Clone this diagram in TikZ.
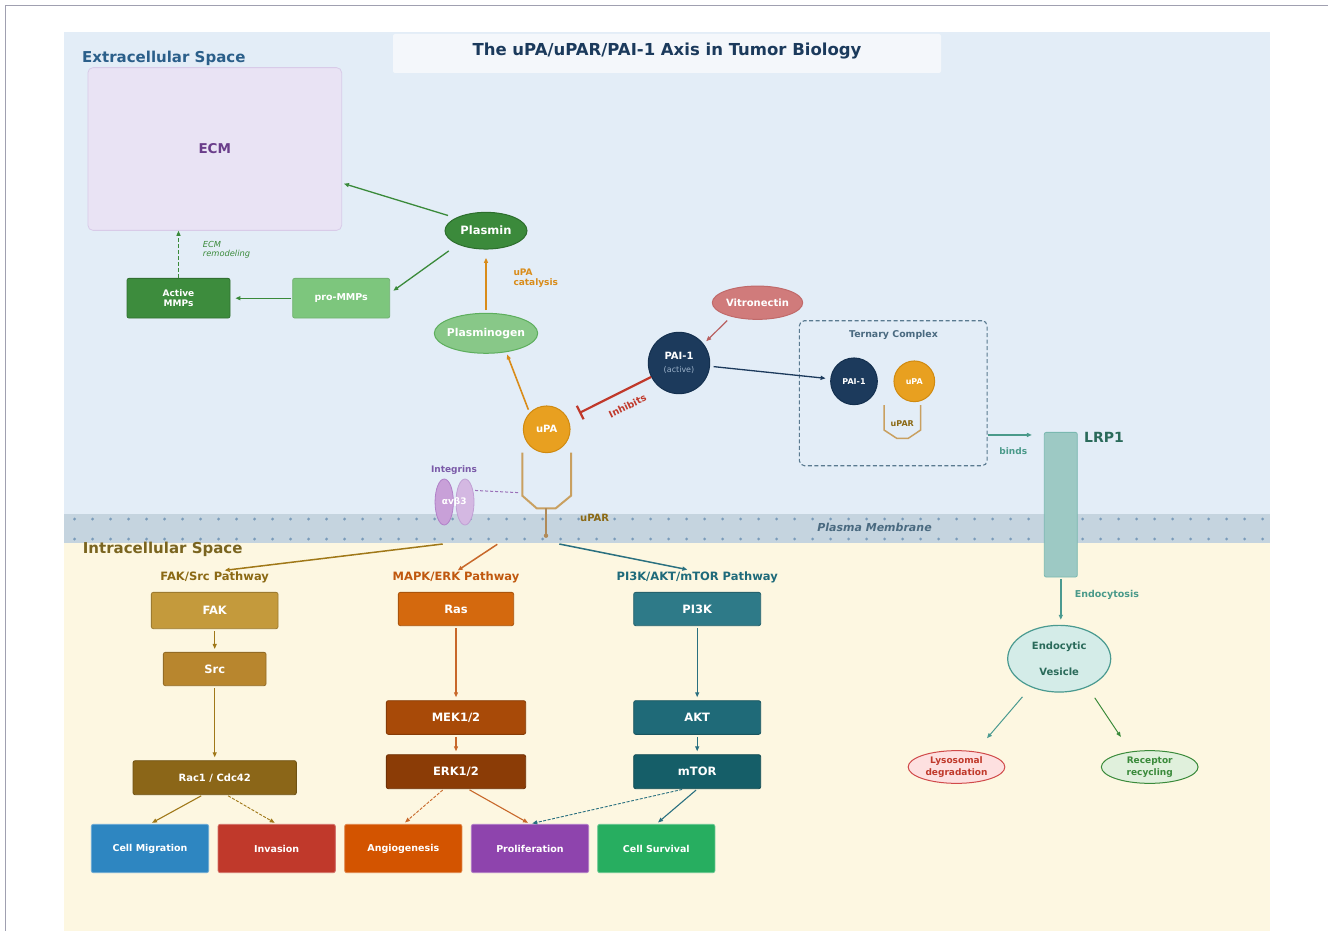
\documentclass[tikz,border=0pt]{standalone}
\usepackage{fontspec}
\setmainfont{DejaVu Sans}
\usetikzlibrary{arrows.meta,shapes.geometric}

\definecolor{framegrey}{HTML}{A0A0B0}
\definecolor{bgblue}{HTML}{E3EDF7}
\definecolor{bgyellow}{HTML}{FDF7E1}
\definecolor{membr}{HTML}{C5D4DF}
\definecolor{memdot}{HTML}{7A9BBA}
\definecolor{titlefill}{HTML}{F4F7FB}
\definecolor{titletext}{HTML}{1B3A5C}
\definecolor{extratext}{HTML}{2B5F8A}
\definecolor{ecmfill}{HTML}{E9E3F4}
\definecolor{ecmdraw}{HTML}{D8CBE8}
\definecolor{ecmtext}{HTML}{6A3D8A}
\definecolor{plasminc}{HTML}{3B8A3B}
\definecolor{plasmindraw}{HTML}{2D6E2D}
\definecolor{plgnc}{HTML}{88C888}
\definecolor{plgndraw}{HTML}{5DAE5D}
\definecolor{prommc}{HTML}{7DC67D}
\definecolor{actmmc}{HTML}{3D8C3D}
\definecolor{mmgreen}{HTML}{3A8A3A}
\definecolor{upac}{HTML}{E8A020}
\definecolor{upadraw}{HTML}{D08A10}
\definecolor{catal}{HTML}{D98C1A}
\definecolor{uparcol}{HTML}{C9A060}
\definecolor{uparstem}{HTML}{B08A58}
\definecolor{upartext}{HTML}{8B6914}
\definecolor{paic}{HTML}{1C3A5C}
\definecolor{paidraw}{HTML}{14304F}
\definecolor{activegrey}{HTML}{9AB0C8}
\definecolor{inhred}{HTML}{C0392B}
\definecolor{vitroc}{HTML}{D07B7B}
\definecolor{vitrodraw}{HTML}{C06A6A}
\definecolor{vitroarr}{HTML}{B86060}
\definecolor{ternline}{HTML}{5A7A90}
\definecolor{terntext}{HTML}{4A6A80}
\definecolor{tealc}{HTML}{4A9A8A}
\definecolor{lrpfill}{HTML}{9DC9C4}
\definecolor{lrpdraw}{HTML}{7AB8B0}
\definecolor{lrptext}{HTML}{2A6A5A}
\definecolor{int1c}{HTML}{C8A0D8}
\definecolor{int1draw}{HTML}{B080C8}
\definecolor{int2c}{HTML}{D4B8E2}
\definecolor{int2draw}{HTML}{C0A0D4}
\definecolor{intdash}{HTML}{9A70B8}
\definecolor{integtext}{HTML}{7A5AA8}
\definecolor{intratext}{HTML}{7A6520}
\definecolor{fakarr}{HTML}{A07818}
\definecolor{fakhdr}{HTML}{8B6914}
\definecolor{fakbox}{HTML}{C49A3C}
\definecolor{srcbox}{HTML}{B8862E}
\definecolor{racbox}{HTML}{8B6618}
\definecolor{mapkhdr}{HTML}{C0580E}
\definecolor{rasbox}{HTML}{D4690E}
\definecolor{mekbox}{HTML}{A84A08}
\definecolor{erkbox}{HTML}{8B3C06}
\definecolor{mapkarr}{HTML}{C8682A}
\definecolor{pi3khdr}{HTML}{1E6A7A}
\definecolor{pi3kbox}{HTML}{2E7A88}
\definecolor{aktbox}{HTML}{1F6A78}
\definecolor{mtorbox}{HTML}{155E68}
\definecolor{pi3karr}{HTML}{2A7080}
\definecolor{migblue}{HTML}{2E86C1}
\definecolor{invred}{HTML}{C0392B}
\definecolor{angorange}{HTML}{D35400}
\definecolor{prolpurple}{HTML}{8E44AD}
\definecolor{survgreen}{HTML}{27AE60}
\definecolor{vesfill}{HTML}{D4ECE8}
\definecolor{vesdraw}{HTML}{4A9A90}
\definecolor{vestext}{HTML}{2A6A5A}
\definecolor{lysofill}{HTML}{FDE0E0}
\definecolor{lysodraw}{HTML}{D04A4A}
\definecolor{lysotext}{HTML}{C0392B}
\definecolor{recfill}{HTML}{E0F0DC}
\definecolor{recdraw}{HTML}{3A8A3A}

\newcommand{\fsz}[1]{\fontsize{#1}{#1}\selectfont}

\tikzset{
  arr/.style={-{Triangle[length=5pt,width=4pt]}, line width=1.3pt, draw=#1},
  arr/.default=black,
  dasharr/.style={arr=#1, line width=0.9pt, dash pattern=on 3pt off 1.5pt},
  pbox/.style={rectangle, rounded corners=2pt, fill=#1, draw=#1!80!black, line width=0.8pt,
    text=white, inner sep=0pt, align=center, font=\bfseries\fsz{11.5}},
  obox/.style={rectangle, rounded corners=2pt, fill=#1, draw=#1!70!white, line width=0.8pt,
    text=white, inner sep=0pt, minimum width=117.3pt, minimum height=48.3pt, font=\bfseries\fsz{9.5}},
  hdr/.style={anchor=base, inner sep=0pt, text=#1, font=\bfseries\fsz{11.5}},
  blob/.style={ellipse, inner sep=0pt, line width=1pt, align=center},
  ball/.style={circle, inner sep=0pt, line width=1pt, text=white, align=center},
  lbl/.style={inner sep=0pt, text=#1},
}

\begin{document}
\begin{tikzpicture}[x=1pt, y=-1pt]
\useasboundingbox (0,0) rectangle (1328,931);
\fill[white] (0,0) rectangle (1328,931);
\draw[framegrey, line width=1pt] (5,931) -- (5,6) -- (1328,6);
\fill[bgblue] (64,32) rectangle (1270,514);
\fill[bgyellow] (64,543) rectangle (1270,931);
\fill[membr] (64,514) rectangle (1270,543);
\foreach \x in {74.6,92.6,...,1266} {
    \fill[memdot] (\x,519) circle (1.6pt);
    \fill[memdot] (\x,539) circle (1.6pt);
}

\node[lbl=extratext, anchor=base west, font=\bfseries\fsz{15}] (extra) at (82,62.3) {Extracellular Space};
\fill[titlefill, rounded corners=2pt] (393,34) rectangle (941,73);
\node[lbl=titletext, anchor=base, font=\bfseries\fsz{16.5}] (title) at (667,55.5) {The uPA/uPAR/PAI-1 Axis in Tumor Biology};

\node[rectangle, rounded corners=5pt, draw=ecmdraw, fill=ecmfill, line width=0.8pt, minimum width=253.7pt,
      minimum height=162.7pt, text=ecmtext, font=\bfseries\fsz{13.5}] (ecm) at (214.8,149) {ECM};
\node[blob, draw=plasmindraw, fill=plasminc, minimum width=82pt, minimum height=36.7pt, text=white,
      font=\bfseries\fsz{11.5}] (plasmin) at (486,230.7) {Plasmin};
\node[blob, draw=plgndraw, fill=plgnc, minimum width=103.4pt, minimum height=40pt,
      label={[text=white, font=\bfseries\fsz{10.8}]center:Plasminogen}] (plgn) at (486,333.3) {};
\node[pbox=prommc, draw=prommc!90!black, minimum width=97pt, minimum height=39.7pt,
      font=\bfseries\fsz{9.5}] (promm) at (341.2,298.2) {pro-MMPs};
\node[pbox=actmmc, minimum width=103pt, minimum height=39.7pt, font=\bfseries\fsz{9}] (actmm) at (178.5,298.2) {Active\\[1pt]MMPs};
\node[lbl=mmgreen, anchor=north west, align=left, font=\itshape\fsz{8.3}] (remod) at (202.7,241) {ECM\\[1.2pt]remodeling};
\node[lbl=catal, anchor=north west, align=left, font=\bfseries\fsz{9}] (catlbl) at (513.3,268.3) {uPA\\[1pt]catalysis};

\node[ball, draw=upadraw, fill=upac, minimum size=46.7pt, font=\bfseries\fsz{10}] (upa) at (546.7,429.3) {uPA};
\node[ball, draw=paidraw, fill=paic, minimum size=61.4pt, font=\bfseries\fsz{10}] (pai) at (679,363)
      {PAI-1\\[2.3pt]{\mdseries\fsz{8}\color{activegrey}(active)}};
\node[blob, draw=vitrodraw, fill=vitroc, minimum width=90.4pt, minimum height=33.3pt, text=white,
      font=\bfseries\fsz{10}] (vitro) at (757.5,302.7) {Vitronectin};

\node[rectangle, rounded corners=5pt, draw=ternline, line width=1.1pt, dash pattern=on 4pt off 2.5pt,
      minimum width=187.7pt, minimum height=145pt] (tern) at (893.2,393.2) {};
\node[lbl=terntext, anchor=base, font=\bfseries\fsz{9.4}] (ternlbl) at (893.5,337) {Ternary Complex};
\node[ball, draw=paidraw, fill=paic, minimum size=46.7pt, font=\bfseries\fsz{8}] (tpai) at (854,381.3) {PAI-1};
\node[ball, draw=upadraw, fill=upac, minimum size=40.7pt, font=\bfseries\fsz{8}] (tupa) at (914.3,381.3) {uPA};
\draw[uparcol, line width=1.5pt] (884,405) -- (884,430) -- (896.7,438.3) -- (908.3,438.3) -- (920.7,430) -- (920.7,405);
\node[lbl=upartext, font=\bfseries\fsz{8}] (tupar) at (902.3,424) {uPAR};

\node[rectangle, rounded corners=2pt, draw=lrpdraw, fill=lrpfill, line width=0.8pt, minimum width=33pt,
      minimum height=144.7pt, inner sep=0pt] (lrp) at (1060.8,504.7) {};
\node[lbl=lrptext, anchor=base west, font=\bfseries\fsz{14}] (lrplbl) at (1084,442.3) {LRP1};

\node[ellipse, draw=int1draw, fill=int1c, line width=0.8pt, minimum width=18.3pt, minimum height=46pt,
      inner sep=0pt] (int1) at (444.2,502) {};
\node[ellipse, draw=int2draw, fill=int2c, line width=0.8pt, minimum width=18pt, minimum height=46pt,
      inner sep=0pt] (int2) at (465,502) {};
\node[lbl=white, font=\bfseries\fsz{9}] (ab3) at (454.2,501.7) {αvβ3};
\node[lbl=integtext, anchor=base, font=\bfseries\fsz{9}] (intlbl) at (454,472.5) {Integrins};

\draw[uparcol, line width=2pt] (522.3,452.5) -- (522.3,495.7) -- (536.7,508.3) -- (555.7,508.3) -- (571,495.7) -- (571,452.5);
\draw[uparstem, line width=1.5pt] (546,508.3) -- (546,535.7);
\fill[uparstem] (546,535.7) circle (2.2pt);
\coordinate (uparL) at (520,492.7);
\node[lbl=upartext, anchor=base west, font=\bfseries\fsz{10}] (uparlbl) at (580,521.7) {uPAR};
\node[lbl=terntext, anchor=base, font=\bfseries\itshape\fsz{11}] (memlbl) at (874.5,531.7) {Plasma Membrane};

\node[lbl=intratext, anchor=base west, font=\bfseries\fsz{15}] (intra) at (82.7,553.3) {Intracellular Space};
\node[hdr=fakhdr] (fakh) at (214.7,580.5) {FAK/Src Pathway};
\node[hdr=mapkhdr] (mapkh) at (456,580.5) {MAPK/ERK Pathway};
\node[hdr=pi3khdr] (pi3kh) at (697.2,580.5) {PI3K/AKT/mTOR Pathway};

\node[pbox=fakbox, minimum width=126.7pt, minimum height=36.3pt] (fak) at (214.7,610.5) {FAK};
\node[pbox=srcbox, minimum width=102.7pt, minimum height=33.3pt] (src) at (214.7,669) {Src};
\node[pbox=racbox, minimum width=163.3pt, minimum height=34pt, font=\bfseries\fsz{10}] (rac) at (214.7,777.7) {Rac1 / Cdc42};
\node[pbox=rasbox, minimum width=115.3pt, minimum height=33.3pt] (ras) at (456,609) {Ras};
\node[pbox=mekbox, minimum width=139.3pt, minimum height=33.7pt] (mek) at (456,717.5) {MEK1/2};
\node[pbox=erkbox, minimum width=139.3pt, minimum height=34pt] (erk) at (456,771.7) {ERK1/2};
\node[pbox=pi3kbox, minimum width=127pt, minimum height=33.3pt] (pi3k) at (697.2,609) {PI3K};
\node[pbox=aktbox, minimum width=127pt, minimum height=33.7pt] (akt) at (697.2,717.5) {AKT};
\node[pbox=mtorbox, minimum width=127pt, minimum height=34pt] (mtor) at (697.2,771.7) {mTOR};

\foreach \n/\x/\c/\t in {cmig/150/migblue/Cell Migration, inv/276.7/invred/Invasion,
    ang/403.3/angorange/Angiogenesis, prol/530/prolpurple/Proliferation, surv/656.3/survgreen/Cell Survival}
    \node[obox=\c] (\n) at (\x,848.5) {\t};

\node[blob, draw=vesdraw, fill=vesfill, line width=1.2pt, minimum width=103pt, minimum height=66.7pt,
      text=vestext, font=\bfseries\fsz{10}] (vesi) at (1059.2,658.7) {Endocytic\\[15.3pt]Vesicle};
\node[blob, draw=lysodraw, fill=lysofill, minimum width=96.7pt, minimum height=32.7pt, text=lysotext,
      font=\bfseries\fsz{9}] (lyso) at (956.5,767) {Lysosomal\\[2.5pt]degradation};
\node[blob, draw=recdraw, fill=recfill, minimum width=96.7pt, minimum height=32.7pt, text=recdraw,
      font=\bfseries\fsz{9}] (recyc) at (1149.7,767) {Receptor\\[2.5pt]recycling};

\draw[arr=mmgreen, shorten <=8pt, shorten >=2pt] (plasmin.157) -- (ecm.-15);
\draw[arr=mmgreen, shorten <=11pt, shorten >=4pt] (plasmin.206) -- (promm.6);
\draw[arr=mmgreen, shorten <=1pt, shorten >=5pt] (promm.west) -- (actmm.east);
\draw[arr=mmgreen, line width=1.1pt, dash pattern=on 4pt off 2pt] (actmm.north) -- (actmm.north |- ecm.south);
\draw[arr=catal, line width=2pt, shorten <=2.6pt, shorten >=8.3pt] (plgn.north) -- (plasmin.south);
\draw[arr=catal, line width=1.6pt, shorten <=3.3pt, shorten >=2.3pt] (upa.136) -- (plgn.-43);
\draw[arr=vitroarr, line width=1.2pt, shorten <=5.5pt, shorten >=3.7pt] (vitro.208) -- (pai.38);
\draw[arr=paic, line width=1.3pt, shorten <=3.6pt, shorten >=4.7pt] (pai) -- (tpai);
\draw[inhred, line width=2.2pt, -{Bar[width=15pt]}, shorten >=12.5pt] (pai) -- (upa);
\node[lbl=inhred, rotate=26, font=\bfseries\fsz{9.5}] (inhlbl) at (627.5,406) {Inhibits};
\draw[intdash, line width=1pt, dash pattern=on 3pt off 2pt, shorten <=2pt] (int2.55) -- (uparL);

\coordinate (lrpin) at ([yshift=-3pt]lrp.north west);
\draw[arr=tealc, line width=1.5pt, shorten >=12pt] (tern.east |- lrpin) -- (lrpin);
\node[lbl=tealc, font=\bfseries\fsz{9}] (bindlbl) at (1013.3,450.7) {binds};
\draw[arr=vesdraw, line width=1.5pt, shorten <=1.3pt, shorten >=5pt] (lrp.south) -- (lrp.south |- vesi.north);
\node[lbl=tealc, anchor=base west, font=\bfseries\fsz{9.5}] (endolbl) at (1074.7,597.7) {Endocytosis};
\draw[arr=vesdraw, line width=1pt, shorten <=12.8pt, shorten >=17.5pt] (vesi.225) -- (lyso.39);
\draw[arr=recdraw, line width=1pt, shorten <=12.8pt, shorten >=17.5pt] (vesi.-45) -- (recyc.141);

\coordinate (mfak) at (442.7,544);
\coordinate (mmapk) at (497.3,544.3);
\coordinate (mpi3k) at (559.3,544);
\draw[arr=fakarr, line width=1.5pt, shorten >=10pt] (mfak) -- (fakh.north);
\draw[arr=mapkarr, line width=1.5pt, shorten >=2pt] (mmapk) -- (mapkh.north);
\draw[arr=pi3karr, line width=1.5pt, shorten >=10pt] (mpi3k) -- (pi3kh.north);

\foreach \a/\b/\c in {fak/src/fakarr, src/rac/fakarr, ras/mek/mapkarr, mek/erk/mapkarr, pi3k/akt/pi3karr, akt/mtor/pi3karr}
    \draw[arr=\c, line width=1.1pt, shorten <=2pt, shorten >=3pt] (\a.south) -- (\b.north);

\draw[arr=fakarr, line width=1.1pt, shorten <=1.5pt, shorten >=2.3pt] (rac.-125) -- (cmig.north);
\draw[dasharr=fakarr, shorten <=1.5pt, shorten >=2.3pt] (rac.-55) -- (inv.north);
\draw[dasharr=mapkarr, shorten <=1.5pt, shorten >=2.3pt] (erk.-125) -- (ang.north);
\draw[arr=mapkarr, line width=1.1pt, shorten <=1.5pt, shorten >=2.3pt] (erk.-55) -- (prol.north);
\draw[dasharr=pi3karr, shorten <=1.5pt, shorten >=2.3pt] (mtor.-128) -- (prol.north);
\draw[arr=pi3karr, line width=1.1pt, shorten <=1.5pt, shorten >=2.3pt] (mtor.south) -- (surv.north);
\end{tikzpicture}
\end{document}
